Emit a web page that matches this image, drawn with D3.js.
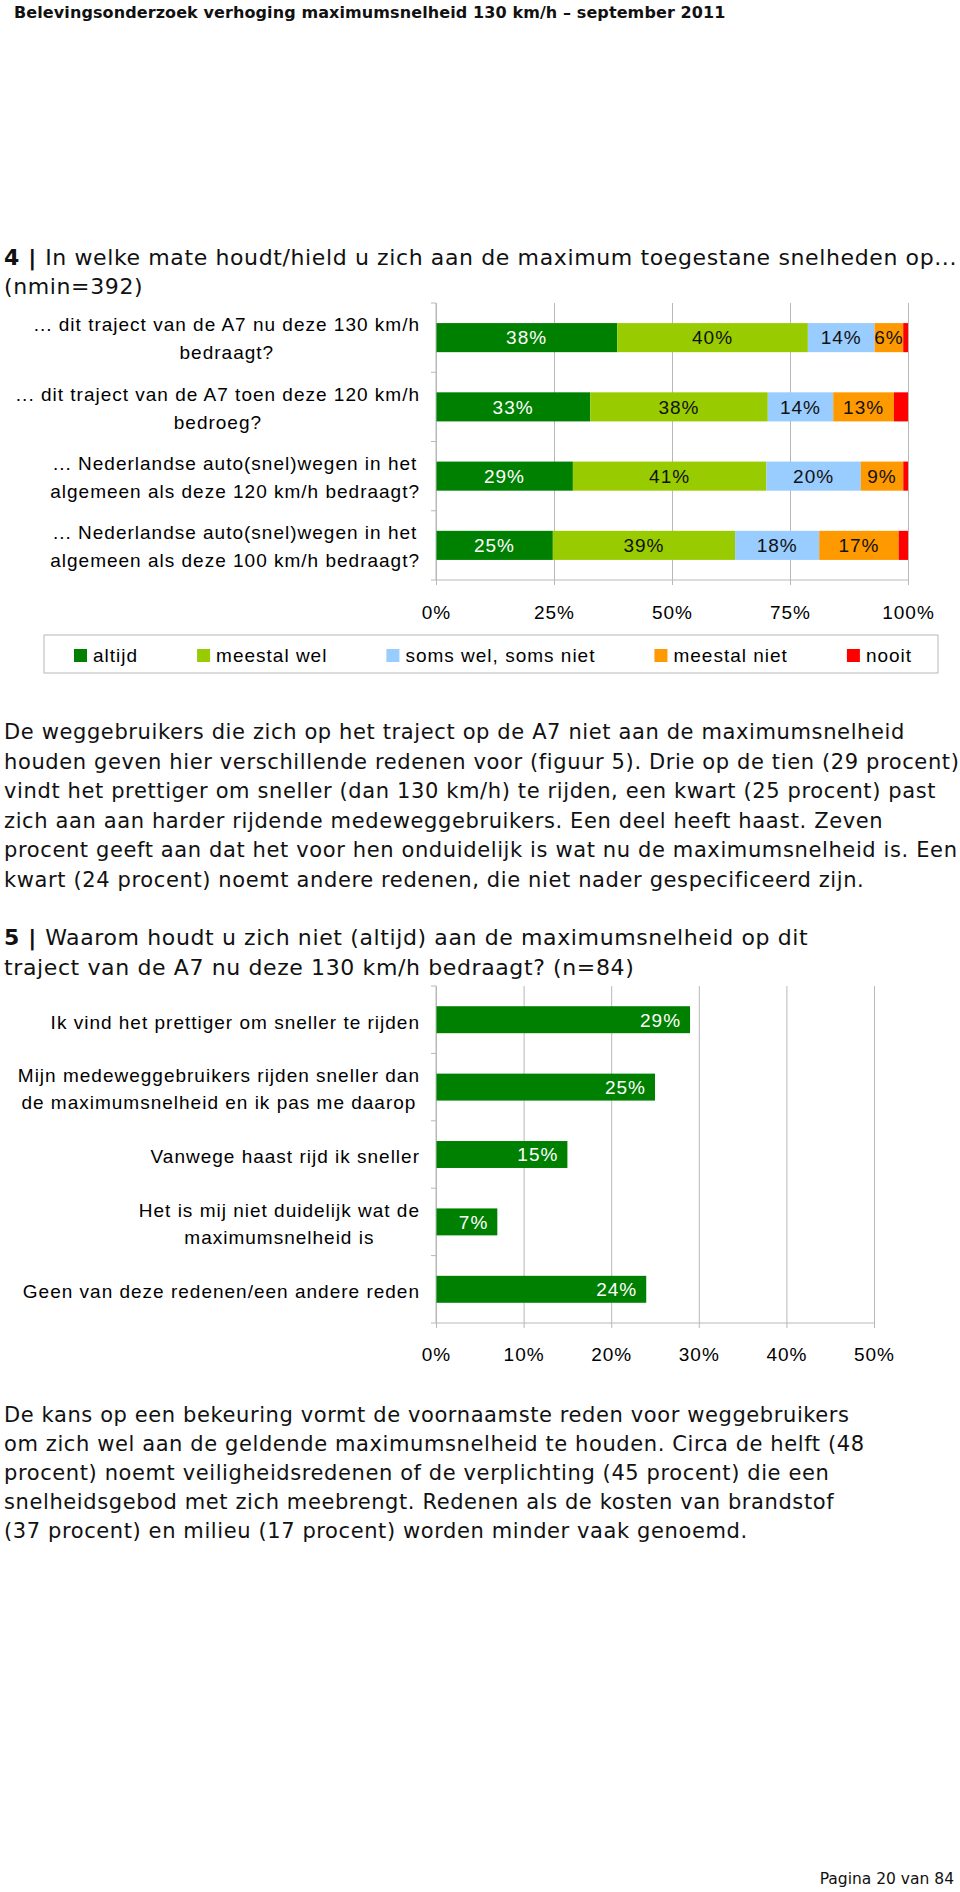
<!DOCTYPE html>
<html><head><meta charset="utf-8">
<script src="https://cdn.jsdelivr.net/npm/d3@7"></script>
<style>body{margin:0;background:#fff} svg{display:block}</style>
</head><body>
<svg id="page" width="960" height="1892"></svg>
<script>
// ---------- data ----------
const headerText = "Belevingsonderzoek verhoging maximumsnelheid 130 km/h – september 2011";
const title4Num = "4";
const title4Lines = ["In welke mate houdt/hield u zich aan de maximum toegestane snelheden op...", "(nmin=392)"];
const categories1 = [
  "... dit traject van de A7 nu deze 130 km/h\nbedraagt?",
  "... dit traject van de A7 toen deze 120 km/h\nbedroeg?",
  "... Nederlandse auto(snel)wegen in het\nalgemeen als deze 120 km/h bedraagt?",
  "... Nederlandse auto(snel)wegen in het\nalgemeen als deze 100 km/h bedraagt?"
];
const seriesNames = ["altijd", "meestal wel", "soms wel, soms niet", "meestal niet", "nooit"];
const seriesColors = ["#008000", "#99cc00", "#99ccff", "#ff9900", "#ff0000"];
const altijd = [38, 33, 29, 25];
const meestalWel = [40, 38, 41, 39];
const somsWel = [14, 14, 20, 18];
const meestalNiet = [6, 13, 9, 17];
const nooit = [1, 3, 1, 2];
const ticks1 = [0, 0.25, 0.5, 0.75, 1];

const body1 = [
  "De weggebruikers die zich op het traject op de A7 niet aan de maximumsnelheid",
  "houden geven hier verschillende redenen voor (figuur 5). Drie op de tien (29 procent)",
  "vindt het prettiger om sneller (dan 130 km/h) te rijden, een kwart (25 procent) past",
  "zich aan aan harder rijdende medeweggebruikers. Een deel heeft haast. Zeven",
  "procent geeft aan dat het voor hen onduidelijk is wat nu de maximumsnelheid is. Een",
  "kwart (24 procent) noemt andere redenen, die niet nader gespecificeerd zijn."
];
const title5Num = "5";
const title5Lines = ["Waarom houdt u zich niet (altijd) aan de maximumsnelheid op dit", "traject van de A7 nu deze 130 km/h bedraagt? (n=84)"];
const categories2 = [
  "Ik vind het prettiger om sneller te rijden",
  "Mijn medeweggebruikers rijden sneller dan\nde maximumsnelheid en ik pas me daarop",
  "Vanwege haast rijd ik sneller",
  "Het is mij niet duidelijk wat de\nmaximumsnelheid is",
  "Geen van deze redenen/een andere reden"
];
const values2 = [29, 25, 15, 7, 24];
const ticks2 = [0, 10, 20, 30, 40, 50];
const body2 = [
  "De kans op een bekeuring vormt de voornaamste reden voor weggebruikers",
  "om zich wel aan de geldende maximumsnelheid te houden. Circa de helft (48",
  "procent) noemt veiligheidsredenen of de verplichting (45 procent) die een",
  "snelheidsgebod met zich meebrengt. Redenen als de kosten van brandstof",
  "(37 procent) en milieu (17 procent) worden minder vaak genoemd."
];
const footerText = "Pagina 20 van 84";

// ---------- styles ----------
const chartFont = "'Liberation Sans', Arial, sans-serif";
const chartSize = 19;
const chartLS = 1;
const textFont = "'DejaVu Sans', Verdana, sans-serif";
const gridColor = "#b8b8b8";

const svg = d3.select("#page");

// ---------- page texts ----------
svg.append("text").attr("x", 14).attr("y", 18)
  .attr("font-family", textFont).attr("font-weight", "bold").attr("font-size", 16)
  .attr("letter-spacing", 0.1).attr("fill", "#111").text(headerText);

function titleBlock(num, lines, y0, lh, size, ls) {
  const t = svg.append("text").attr("font-family", textFont).attr("font-size", size)
    .attr("letter-spacing", ls).attr("fill", "#111");
  lines.forEach((ln, i) => {
    const ts = t.append("tspan").attr("x", 4).attr("y", y0 + i * lh);
    if (i === 0) {
      ts.append("tspan").attr("font-weight", "bold").text(num + " | ");
      ts.append("tspan").text(ln);
    } else ts.text(ln);
  });
}
function paragraph(lines, y0, lh, size, ls) {
  const t = svg.append("text").attr("font-family", textFont).attr("font-size", size)
    .attr("letter-spacing", ls).attr("fill", "#111");
  t.selectAll("tspan").data(lines).join("tspan")
    .attr("x", 4).attr("y", (d, i) => y0 + i * lh).text(d => d);
}

titleBlock(title4Num, title4Lines, 264.5, 29, 22, 0.62);
paragraph(body1, 739, 29.6, 21, 0.62);
titleBlock(title5Num, title5Lines, 945, 29.5, 22, 0.62);
paragraph(body2, 1421.5, 29.2, 21, 0.6);
svg.append("text").attr("x", 954).attr("y", 1884).attr("text-anchor", "end")
  .attr("font-family", textFont).attr("font-size", 15.5).attr("fill", "#111").text(footerText);

// ---------- helpers ----------
function catLabel(g, text, rightX, cy, lh) {
  const lines = text.split("\n");
  const t = g.append("text").attr("font-family", chartFont).attr("font-size", chartSize)
    .attr("letter-spacing", chartLS).attr("fill", "#000").attr("text-anchor", "middle");
  const spans = lines.map((ln, i) => t.append("tspan")
    .attr("y", cy + (i - (lines.length - 1) / 2) * lh + 6.8).text(ln));
  const maxW = d3.max(spans, s => s.node().getComputedTextLength());
  spans.forEach(s => s.attr("x", rightX - maxW / 2));
}
function styleAxis(g) {
  g.select(".domain").remove();
  g.selectAll(".tick line").attr("stroke", gridColor);
  g.selectAll(".tick text").attr("font-family", chartFont).attr("font-size", chartSize)
    .attr("letter-spacing", chartLS).attr("fill", "#000");
}

// ---------- chart 1 : 100% stacked bars ----------
(function () {
  const left = 436, right = 908, top = 303, bottom = 580;
  const rows = categories1.map((c, i) => ({
    cat: c, altijd: altijd[i], meestalWel: meestalWel[i], somsWel: somsWel[i],
    meestalNiet: meestalNiet[i], nooit: nooit[i]
  }));
  const keys = ["altijd", "meestalWel", "somsWel", "meestalNiet", "nooit"];
  const stack = d3.stack().keys(keys).offset(d3.stackOffsetExpand)(rows);
  const x = d3.scaleLinear().domain([0, 1]).range([left, right]);
  const y = d3.scaleBand().domain(d3.range(categories1.length)).range([top, bottom])
    .paddingInner(0.58).paddingOuter(0.29);
  const g = svg.append("g");

  // gridlines
  g.append("g").attr("transform", `translate(0,${top})`)
    .call(d3.axisBottom(x).tickValues(ticks1).tickSize(bottom - top).tickFormat(""))
    .call(a => { a.select(".domain").remove(); a.selectAll("line").attr("stroke", gridColor); });

  // bars
  stack.forEach((s, si) => {
    g.append("g").attr("fill", seriesColors[si]).selectAll("rect").data(s).join("rect")
      .attr("x", d => x(d[0])).attr("width", d => x(d[1]) - x(d[0]))
      .attr("y", (d, i) => y(i)).attr("height", y.bandwidth());
    g.append("g").selectAll("text").data(s.filter((d, i) => rows[i][s.key] >= 5)).join("text")
      .attr("x", d => (x(d[0]) + x(d[1])) / 2)
      .attr("y", d => y(rows.indexOf(d.data)) + y.bandwidth() / 2 + 6.8)
      .attr("text-anchor", "middle").attr("font-family", chartFont).attr("font-size", chartSize)
      .attr("letter-spacing", chartLS).attr("fill", si === 0 ? "#fff" : "#111")
      .text(d => d.data[s.key] + "%");
  });

  // axes
  g.append("g").attr("transform", `translate(0,${bottom})`)
    .call(d3.axisBottom(x).tickValues(ticks1).tickSize(5).tickPadding(21).tickFormat(d3.format(".0%")))
    .call(styleAxis);
  g.append("line").attr("x1", left).attr("x2", right).attr("y1", bottom).attr("y2", bottom).attr("stroke", gridColor);
  g.append("line").attr("x1", left).attr("x2", left).attr("y1", top).attr("y2", bottom).attr("stroke", gridColor);
  const gap = (y.step() - y.bandwidth()) / 2;
  const bounds = d3.range(categories1.length).map(i => y(i) - gap).concat([bottom]);
  g.selectAll(".ltick").data(bounds).join("line").attr("class", "ltick")
    .attr("x1", left - 5).attr("x2", left).attr("y1", d => d).attr("y2", d => d).attr("stroke", gridColor);

  categories1.forEach((c, i) => catLabel(g, c, 420, y(i) + y.bandwidth() / 2 + 1, 28));

  // legend
  const lg = svg.append("g");
  lg.append("rect").attr("x", 44).attr("y", 635).attr("width", 894).attr("height", 38)
    .attr("fill", "#fff").attr("stroke", gridColor);
  let lx = 74;
  seriesNames.forEach((n, i) => {
    lg.append("rect").attr("x", lx).attr("y", 649).attr("width", 13).attr("height", 13).attr("fill", seriesColors[i]);
    const t = lg.append("text").attr("x", lx + 19).attr("y", 662).attr("font-family", chartFont)
      .attr("font-size", chartSize).attr("letter-spacing", chartLS).attr("fill", "#000").text(n);
    lx = lx + 19 + t.node().getComputedTextLength() + 59;
  });
})();

// ---------- chart 2 : horizontal bars ----------
(function () {
  const left = 436, top = 986, bottom = 1323;
  const x = d3.scaleLinear().domain([0, 50]).range([left, 874]);
  const y = d3.scaleBand().domain(d3.range(categories2.length)).range([top, bottom])
    .paddingInner(0.6).paddingOuter(0.3);
  const g = svg.append("g");

  g.append("g").attr("transform", `translate(0,${top})`)
    .call(d3.axisBottom(x).tickValues(ticks2).tickSize(bottom - top).tickFormat(""))
    .call(a => { a.select(".domain").remove(); a.selectAll("line").attr("stroke", gridColor); });

  g.append("g").attr("fill", "#008000").selectAll("rect").data(values2).join("rect")
    .attr("x", x(0)).attr("width", d => x(d) - x(0))
    .attr("y", (d, i) => y(i)).attr("height", y.bandwidth());
  g.append("g").selectAll("text").data(values2).join("text")
    .attr("x", d => x(d) - 9).attr("y", (d, i) => y(i) + y.bandwidth() / 2 + 6.8)
    .attr("text-anchor", "end").attr("font-family", chartFont).attr("font-size", chartSize)
    .attr("letter-spacing", chartLS).attr("fill", "#fff").text(d => d + "%");

  g.append("g").attr("transform", `translate(0,${bottom})`)
    .call(d3.axisBottom(x).tickValues(ticks2).tickSize(5).tickPadding(20).tickFormat(d => d + "%"))
    .call(styleAxis);
  g.append("line").attr("x1", left).attr("x2", 874).attr("y1", bottom).attr("y2", bottom).attr("stroke", gridColor);
  g.append("line").attr("x1", left).attr("x2", left).attr("y1", top).attr("y2", bottom).attr("stroke", gridColor);
  const gap = (y.step() - y.bandwidth()) / 2;
  const bounds = d3.range(categories2.length).map(i => y(i) - gap).concat([bottom]);
  g.selectAll(".ltick").data(bounds).join("line").attr("class", "ltick")
    .attr("x1", left - 5).attr("x2", left).attr("y1", d => d).attr("y2", d => d).attr("stroke", gridColor);

  categories2.forEach((c, i) => catLabel(g, c, 420, y(i) + y.bandwidth() / 2 + 2, 27));
})();
</script>
</body></html>
